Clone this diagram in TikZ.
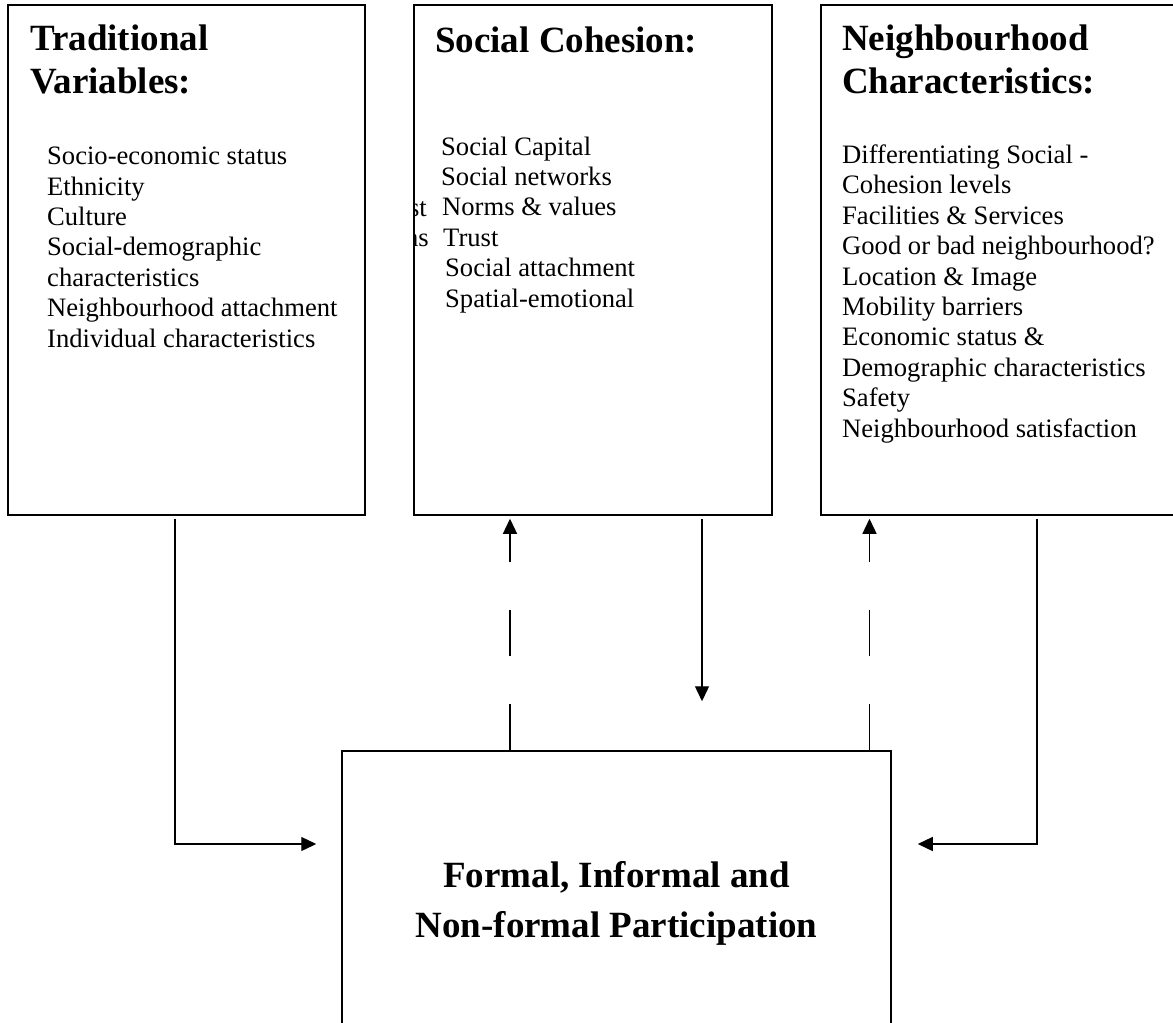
\documentclass[tikz,border=0pt]{standalone}
\usepackage{fontspec}
\setmainfont{Liberation Serif}
\usetikzlibrary{positioning,arrows.meta}

\tikzset{
  box/.style={draw, line width=1.5pt, inner sep=0pt},
  head/.style={font=\fontsize{37}{43}\selectfont\bfseries, align=left, anchor=base west, inner sep=0pt},
  item/.style={font=\fontsize{26.6}{30.4}\selectfont, align=left, anchor=base west, inner sep=0pt},
  conn/.style={line width=1.3pt, -{Triangle[length=15pt,width=14pt]}},
  back/.style={conn, dash pattern=on 46pt off 48pt},
}

\begin{document}
\begin{tikzpicture}[x=1pt,y=-1pt]
\clip (0,0) rectangle (1173,1023);

% the four boxes
\node[box, minimum width=357pt, minimum height=510pt] (trad) at (186.5,260) {};
\node[box, minimum width=358pt, minimum height=510pt] (coh) at (593,260) {};
\node[box, minimum width=359pt, minimum height=510pt] (nbh) at (1000.5,260) {};
\node[box, minimum width=549pt, minimum height=300pt] (part) at (616.5,901) {};

% left box (nodes sit on the baseline of their last line)
\node[head] (tradhead) at (30,93) {Traditional\\Variables:};
\node[item] (traditems) at (47,347) {Socio-economic status\\Ethnicity\\Culture\\Social-demographic\\characteristics\\Neighbourhood attachment\\Individual characteristics};

% middle box
\node[head] (cohhead) at (435,52) {Social Cohesion:};
\node[item] (cohitems) at (441,307) {Social Capital\\Social networks\\\hspace*{1pt}Norms \& values\\\hspace*{2pt}Trust\\\hspace*{4pt}Social attachment\\\hspace*{4pt}Spatial-emotional};
\begin{scope}
\clip (coh.north west) rectangle (coh.south east);
\node[item, anchor=base east] (cohcut1) at (427,216) {st};
\node[item, anchor=base east] (cohcut2) at (429,246) {ns};
\end{scope}

% right box
\node[head] (nbhhead) at (842,93) {Neighbourhood\\Characteristics:};
\node[item] (nbhitems) at (842,437) {Differentiating Social -\\Cohesion levels\\Facilities \& Services\\Good or bad neighbourhood?\\Location \& Image\\Mobility barriers\\Economic status \&\\Demographic characteristics\\Safety\\Neighbourhood satisfaction};

% bottom box
\node[head, align=center, anchor=base, font=\fontsize{37}{50}\selectfont\bfseries] (parttext) at (616.5,937) {Formal, Informal and\\Non-formal Participation};

% connectors
\draw[conn, shorten <=3pt, shorten >=25pt] ([xshift=-11.5pt]trad.south) |- ([yshift=57pt]part.west);
\draw[conn, shorten <=3pt, shorten >=26pt] ([xshift=36.5pt]nbh.south) |- ([yshift=57pt]part.east);
\draw[conn, shorten <=3pt, shorten >=49pt] ([xshift=109pt]coh.south) -- ([xshift=109pt]coh.south |- part.north);
\draw[back, shorten >=3pt] ([xshift=-106.5pt]part.north) -- ([xshift=-106.5pt]part.north |- coh.south);
\draw[back, shorten >=3pt] ([xshift=253pt]part.north) -- ([xshift=253pt]part.north |- nbh.south);
\end{tikzpicture}
\end{document}
